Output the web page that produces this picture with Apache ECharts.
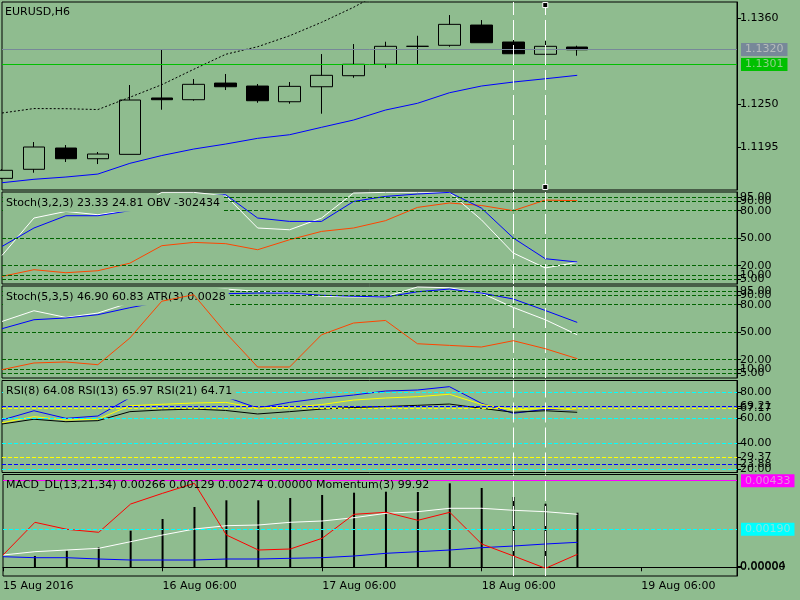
<!DOCTYPE html>
<html><head><meta charset="utf-8">
<script src="https://cdn.jsdelivr.net/npm/echarts@6/dist/echarts.min.js"></script>
<style>html,body{margin:0;padding:0;background:#8fbc8f}#c{width:800px;height:600px}</style>
</head><body><div id="c"></div>
<script>
// ---------- data ----------
const tickIdx = [0, 5, 10, 15, 20];
const tickLabels = ['15 Aug 2016', '16 Aug 06:00', '17 Aug 06:00', '18 Aug 06:00', '19 Aug 06:00'];
const slotCount = 24;
const categories = Array.from({length: slotCount}, (_, i) => {
  const k = tickIdx.indexOf(i); return k >= 0 ? tickLabels[k] : 'bar ' + i;
});

// [open, close, low, high]
const candles = [
  [1.11553, 1.11656, 1.11540, 1.11670],
  [1.11669, 1.11954, 1.11625, 1.12018],
  [1.11941, 1.11804, 1.11762, 1.11979],
  [1.11804, 1.11864, 1.11736, 1.11890],
  [1.11860, 1.12555, 1.11860, 1.12747],
  [1.12581, 1.12559, 1.12431, 1.13207],
  [1.12559, 1.12756, 1.12546, 1.12824],
  [1.12772, 1.12725, 1.12683, 1.12888],
  [1.12734, 1.12546, 1.12520, 1.12760],
  [1.12533, 1.12730, 1.12508, 1.12785],
  [1.12725, 1.12871, 1.12380, 1.13143],
  [1.12866, 1.13012, 1.12840, 1.13271],
  [1.13012, 1.13242, 1.12964, 1.13301],
  [1.13242, 1.13242, 1.13015, 1.13377],
  [1.13255, 1.13523, 1.13237, 1.13642],
  [1.13514, 1.13288, 1.13288, 1.13578],
  [1.13297, 1.13147, 1.13012, 1.13480],
  [1.13140, 1.13242, 1.13045, 1.13310],
  [1.13233, 1.13198, 1.13122, 1.13250]
];
const maLine = [1.11497, 1.11541, 1.11570, 1.11608, 1.11745, 1.11845, 1.11928, 1.11992, 1.12065, 1.12111,
  1.12206, 1.12299, 1.12427, 1.12513, 1.12648, 1.12734, 1.12785, 1.12827, 1.12871];
const envLine = [1.12389, 1.12446, 1.12444, 1.12433, 1.12590, 1.12751, 1.12948, 1.13140, 1.13237, 1.13377,
  1.13549, 1.13741, 1.13962];
const bidPrice = 1.1320;
const linePrice = 1.1301;
const priceTicks = [1.1195, 1.1250, 1.1360];

const stoch1Main = [31.2, 72.0, 79.2, 75.6, 80.5, 100, 100, 96.3, 61.1, 59.2, 72.0, 99.3, 100, 100, 100, 70.1, 33.8, 17.5, 23.6];
const stoch1Signal = [41.0, 61.1, 74.5, 74.5, 80.0, 86.5, 95.2, 97.4, 72.0, 68.3, 68.3, 90.1, 95.6, 98.2, 100, 82.9, 50.2, 27.6, 24.0];
const obvLine = [8.3, 15.6, 12.3, 14.5, 22.7, 41.8, 45.4, 44.0, 37.4, 48.3, 57.4, 61.1, 69.1, 83.6, 88.4, 85.7, 80.0, 91.6, 90.9];

const stoch2Main = [61.7, 73.4, 66.1, 70.9, 82.1, 89.8, 95.2, 97.1, 94.5, 92.7, 89.2, 88.4, 88.7, 99.3, 98.5, 92.7, 77.0, 63.6, 47.2];
const stoch2Signal = [53.8, 63.6, 65.5, 69.1, 76.7, 83.2, 87.6, 92.0, 92.7, 92.7, 90.3, 89.2, 88.4, 94.1, 97.1, 92.7, 86.2, 73.7, 60.7];
const atrLine = [9.1, 16.4, 17.5, 14.5, 43.6, 83.8, 90.9, 49.4, 12.0, 12.0, 47.2, 60.0, 62.8, 37.4, 35.6, 33.8, 40.7, 32.0, 21.1];
const stochLevels = [95, 90, 80, 50, 20, 10, 5];
const stochTicksA = [95, 80, 50, 20, 5];
const stochTicksB = [90, 10];

const rsi8 = [58.3, 65.5, 59.6, 61.4, 75.6, 79.3, 81.6, 76.2, 67.6, 72.0, 75.2, 77.7, 80.8, 81.6, 84.2, 71.3, 63.5, 66.6, 66.1];
const rsi13 = [56.2, 60.9, 58.3, 58.9, 69.4, 70.5, 71.5, 72.0, 67.6, 68.2, 70.3, 73.8, 75.4, 76.4, 78.3, 70.5, 66.1, 67.4, 66.1];
const rsi21 = [55.2, 58.9, 57.0, 57.8, 64.8, 66.1, 66.8, 65.7, 63.0, 64.8, 66.8, 68.0, 68.8, 69.7, 70.7, 67.4, 64.3, 65.5, 64.3];
const rsiCyanLevels = [80, 60, 40, 20];
const rsiBlueLevels = [69.21, 23.88];
const rsiYellowLevels = [67.17, 29.37];

const macdRed = [0.000615, 0.00225, 0.0019, 0.00175, 0.003165, 0.0037, 0.0042, 0.001615, 0.000865, 0.000915,
  0.00145, 0.00265, 0.00275, 0.00235, 0.00275, 0.001165, 0.000565, -0.00005, 0.00065];
const macdWhite = [0.000615, 0.00078, 0.000865, 0.00095, 0.00128, 0.001615, 0.001915, 0.00208, 0.002115, 0.00225,
  0.002315, 0.00248, 0.0027, 0.00278, 0.00295, 0.00295, 0.00285, 0.00278, 0.00265];
const macdBlue = [0.00053, 0.00048, 0.00048, 0.000415, 0.000365, 0.000365, 0.000365, 0.000415, 0.000415, 0.00045,
  0.00048, 0.000565, 0.0007, 0.00078, 0.000865, 0.00098, 0.001065, 0.001165, 0.00125];
const momentumBars = [0, 0.000565, 0.00083, 0.001, 0.00183, 0.002415, 0.003015, 0.00335, 0.00335, 0.003465,
  0.003615, 0.00373, 0.00378, 0.003765, 0.0042, 0.003965, 0.003515, 0.00318, 0.00273];
const macdMagentaLevel = 0.00433;
const macdCyanLevel = 0.00190;
const macdTicksA = [0.00004];
const macdTicksB = [0];

const vlineIdx = [16, 17];

const titles = [
  'EURUSD,H6',
  'Stoch(3,2,3) 23.33 24.81 OBV -302434',
  'Stoch(5,3,5) 46.90 60.83 ATR(3) 0.0028',
  'RSI(8) 64.08 RSI(13) 65.97 RSI(21) 64.71',
  'MACD_DL(13,21,34) 0.00266 0.00129 0.00274 0.00000 Momentum(3) 99.92'
];

// ---------- style ----------
const FONT = 'DejaVu Sans';
const BG = '#8fbc8f';
const LBL_TXT = 'rgba(215,215,205,0.65)';

const panels = [
  {top: 2, height: 188, min: 1.11404, max: 1.13809, ticks: priceTicks, extra: null, dec: 4},
  {top: 192, height: 92, min: 0, max: 100.4, ticks: stochTicksA, extra: stochTicksB, dec: 2},
  {top: 286, height: 92, min: 0, max: 100.4, ticks: stochTicksA, extra: stochTicksB, dec: 2},
  {top: 380.5, height: 92, min: 17.55, max: 88.98, ticks: [].concat(rsiCyanLevels, rsiBlueLevels, rsiYellowLevels), extra: null, dec: 2},
  {top: 474.5, height: 101.5, min: -0.000435, max: 0.00464, ticks: macdTicksA, extra: macdTicksB, dec: 5}
];

const showTick = (i) => tickIdx.indexOf(i) >= 0;

const grid = panels.map(p => ({left: 2, right: 63, top: p.top, height: p.height, show: true,
  borderColor: '#000', borderWidth: 1, backgroundColor: 'transparent'}));

const xAxis = panels.map((p, i) => ({
  type: 'category', gridIndex: i, data: categories, boundaryGap: false,
  axisLine: {show: i === 4, lineStyle: {color: '#000', width: 1}},
  axisTick: {show: i === 4, interval: showTick, length: 4, lineStyle: {color: '#000'}},
  axisLabel: {show: i === 4, interval: showTick, align: 'left', margin: 5, color: '#000', fontFamily: FONT, fontSize: 11},
  splitLine: {show: false}
}));

const makeY = (p, i, ticks, showLine) => ({
  type: 'value', gridIndex: i, position: 'right', min: p.min, max: p.max,
  axisLine: {show: showLine, lineStyle: {color: '#000', width: 1}},
  axisTick: {show: true, length: 4, customValues: ticks, lineStyle: {color: '#000'}},
  axisLabel: {customValues: ticks, margin: 3, color: '#000', fontFamily: FONT, fontSize: 11, hideOverlap: false,
    showMinLabel: true, showMaxLabel: true, formatter: (v) => Number(v).toFixed(p.dec)},
  splitLine: {show: false}
});
const yAxis = panels.map((p, i) => makeY(p, i, p.ticks, true));
panels.forEach((p, i) => { if (p.extra) yAxis.push(makeY(p, i, p.extra, false)); });

const vlines = vlineIdx.map(i => ({xAxis: i, lineStyle: {color: '#ffffff', type: [20, 5], width: 1}, label: {show: false}}));
const levels = (vals, color) => vals.map(v => ({yAxis: v, lineStyle: {color: color, type: [4, 2], width: 1}, label: {show: false}}));
const priceLabel = (value, text, color, dashed) => ({
  yAxis: value, lineStyle: {color: color, type: dashed ? [4, 2] : 'solid', width: 1},
  label: {show: true, position: 'end', distance: 4, formatter: text, backgroundColor: color, color: LBL_TXT,
    padding: [1, 4, 0, 4], fontFamily: FONT, fontSize: 11, lineHeight: 12}
});
const mark = (data) => ({symbol: ['none', 'none'], precision: 10, silent: true, animation: false, data: data});

function line(data, color, gi, extra) {
  return Object.assign({type: 'line', xAxisIndex: gi, yAxisIndex: gi, data: data, showSymbol: false, symbol: 'none',
    lineStyle: {color: color, width: 1}, itemStyle: {color: color}, silent: true, animation: false, z: 3}, extra || {});
}

const series = [
  {
    type: 'candlestick', xAxisIndex: 0, yAxisIndex: 0, data: candles, barWidth: 22, silent: true, animation: false,
    itemStyle: {color: BG, color0: '#000', borderColor: '#000', borderColor0: '#000', borderColorDoji: '#000', borderWidth: 1},
    markLine: mark([priceLabel(bidPrice, bidPrice.toFixed(4), '#778899'), priceLabel(linePrice, linePrice.toFixed(4), '#00c000')].concat(vlines)),
    markPoint: {symbol: 'rect', symbolSize: 5, silent: true, animation: false, label: {show: false},
      itemStyle: {color: '#000', borderColor: '#fff', borderWidth: 1},
      data: [{coord: [vlineIdx[1], 1.1377]}, {coord: [vlineIdx[1], 1.11442]}]}
  },
  line(maLine, '#0000ff', 0),
  line(envLine, '#000000', 0, {lineStyle: {color: '#000', width: 1, type: [2, 2]}}),

  line(obvLine, '#ff4500', 1, {markLine: mark(levels(stochLevels, '#006400').concat(vlines)), z: 2}),
  line(stoch1Main, '#ffffff', 1),
  line(stoch1Signal, '#0000ff', 1),

  line(stoch2Main, '#ffffff', 2, {markLine: mark(levels(stochLevels, '#006400').concat(vlines)), z: 2}),
  line(stoch2Signal, '#0000ff', 2),
  line(atrLine, '#ff4500', 2, {z: 8}),

  line(rsi8, '#0000ff', 3, {markLine: mark(levels(rsiCyanLevels, '#00ffff').concat(levels(rsiBlueLevels, '#0000ff'), levels(rsiYellowLevels, '#ffff00'), vlines)), z: 2}),
  line(rsi13, '#ffff00', 3),
  line(rsi21, '#000000', 3),

  {type: 'bar', xAxisIndex: 4, yAxisIndex: 4, data: momentumBars, barWidth: 2, itemStyle: {color: '#000'}, silent: true, animation: false, z: 2,
    markLine: mark([
      priceLabel(macdMagentaLevel, macdMagentaLevel.toFixed(5), '#ff00ff', false),
      priceLabel(macdCyanLevel, macdCyanLevel.toFixed(5), '#00ffff', true)
    ].concat(vlines))},
  line(macdWhite, '#ffffff', 4),
  line(macdBlue, '#0000ff', 4),
  line(macdRed, '#ff0000', 4)
];

const titleTops = [5.5, 194.8, 288.8, 382.5, 476.5];
const title = titles.map((t, i) => ({
  text: t, left: i === 0 ? 5 : 3, top: titleTops[i], z: 6,
  padding: i === 0 ? 0 : [2, 3],
  backgroundColor: (i === 0 || i === 4) ? 'transparent' : BG,
  textStyle: {fontFamily: FONT, fontSize: 11, fontWeight: 'normal', color: '#000', lineHeight: 13}
}));

const chart = echarts.init(document.getElementById('c'), null, {renderer: 'canvas'});
chart.setOption({backgroundColor: BG, animation: false, title, grid, xAxis, yAxis, series});
</script></body></html>
